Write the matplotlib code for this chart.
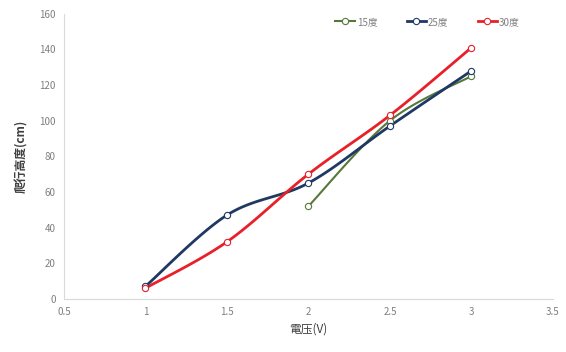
import matplotlib.pyplot as plt
import numpy as np

plt.rcParams['font.family'] = ['Noto Sans CJK SC', 'DejaVu Sans']

voltage = [1, 1.5, 2, 2.5, 3]

x_15 = [2, 2.5, 3]
h_15 = [52, 100, 125]
h_25 = [7, 47, 65, 97, 128]
h_30 = [6, 32, 70, 103, 141]

x_ticks = [0.5, 1, 1.5, 2, 2.5, 3, 3.5]
y_ticks = [0, 20, 40, 60, 80, 100, 120, 140, 160]


def smooth(xs, ys, n=30):
    # catmull-rom style bezier, like a spreadsheet "smoothed line"
    p = np.column_stack([xs, ys]).astype(float)
    ext = np.vstack([p[0], p, p[-1]])
    out = []
    t = np.linspace(0, 1, n)[:, None]
    for i in range(len(p) - 1):
        p0, p1, p2, p3 = ext[i], ext[i + 1], ext[i + 2], ext[i + 3]
        c1 = p1 + (p2 - p0) / 6
        c2 = p2 - (p3 - p1) / 6
        seg = ((1 - t) ** 3 * p1 + 3 * (1 - t) ** 2 * t * c1
               + 3 * (1 - t) * t ** 2 * c2 + t ** 3 * p2)
        out.append(seg if i == 0 else seg[1:])
    out = np.vstack(out)
    return out[:, 0], out[:, 1]


fig = plt.figure(figsize=(5.66, 3.52), dpi=100)
ax = fig.add_axes([0.113, 0.151, 0.864, 0.81])

series = [
    (x_15, h_15, '#56793a', 1.5, '15度'),
    (voltage, h_25, '#1f3864', 2.0, '25度'),
    (voltage, h_30, '#e8202a', 2.0, '30度'),
]
for xs, ys, c, w, lab in series:
    sx, sy = smooth(xs, ys)
    ax.plot(sx, sy, color=c, lw=w, zorder=2)
    ax.plot(xs, ys, ls='none', marker='o', ms=4.5, mfc='white', mec=c,
            mew=0.8, zorder=3)
    ax.plot([], [], color=c, lw=w, marker='o', ms=4.5, mfc='white',
            mec=c, mew=0.8, label=lab)

ax.set_xlim(0.5, 3.5)
ax.set_ylim(0, 160)
ax.set_xticks(x_ticks)
ax.set_xticklabels([f'{v:g}' for v in x_ticks])
ax.set_yticks(y_ticks)

for s in ['top', 'right']:
    ax.spines[s].set_visible(False)
for s in ['left', 'bottom']:
    ax.spines[s].set_color('#d9d9d9')
    ax.spines[s].set_linewidth(0.8)
ax.tick_params(length=0, labelsize=7, colors='#7f7f7f', pad=6)

ax.set_xlabel('電压(V)', fontsize=8.5, color='#404040', labelpad=4)
ax.set_ylabel('爬行高度(cm)', fontsize=8.5, color='#404040', labelpad=8,
              fontweight='bold')

ax.legend(loc='upper right', bbox_to_anchor=(0.95, 1.02), ncol=3,
          frameon=False, fontsize=7, labelcolor='#7f7f7f',
          handlelength=2.0, handletextpad=0.2, columnspacing=3.0)

fig.savefig('out.png', dpi=100)
